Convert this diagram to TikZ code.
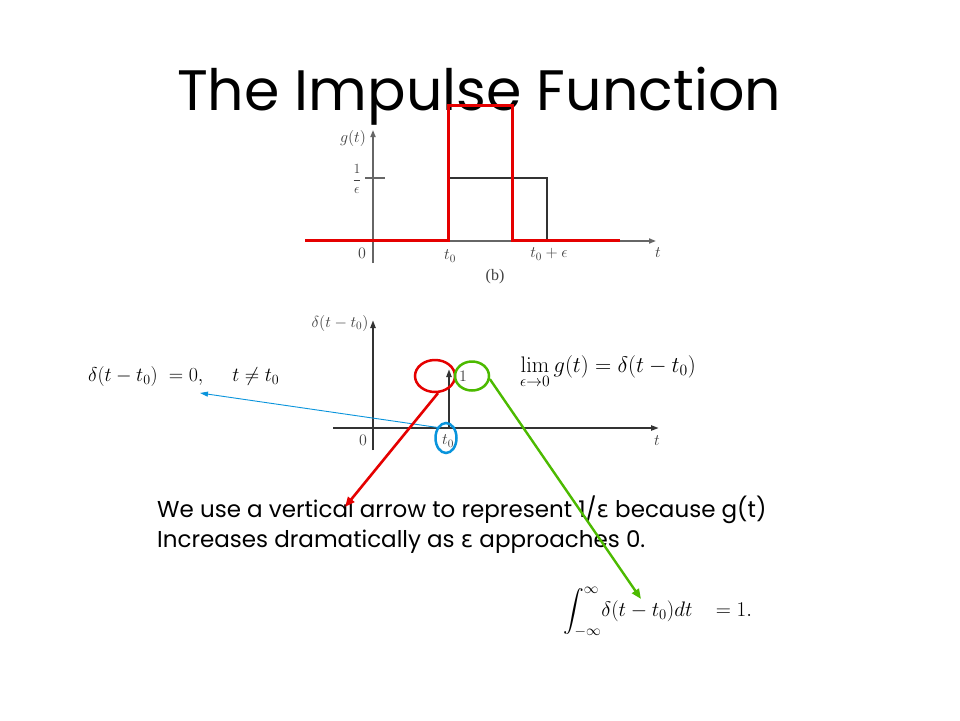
\RequirePackage{fix-cm}
\documentclass[tikz,border=0pt]{standalone}
\usepackage{amsmath}
\usepackage[no-math]{fontspec}
\setmainfont{Poppins}
\newfontfamily\grk{DejaVu Sans}
\usetikzlibrary{arrows.meta,shapes.geometric}
\tikzset{
  gaxis/.style={draw=black!60, line width=1.6pt, -{Triangle[length=7pt,width=5pt]}},
  baxis/.style={draw=black!80, line width=2pt, -{Triangle[length=8pt,width=5pt]}},
  lbl/.style={font=\fontsize{16}{18}\selectfont, text=black!75, inner sep=1pt},
  eqn/.style={inner sep=1pt},
  body/.style={font=\fontsize{23}{30}\selectfont, anchor=base west, inner sep=0pt},
  redl/.style={draw=red!90!black, line width=3pt},
  ring/.style={ellipse, line width=2.5pt, inner sep=0pt},
}
\begin{document}
\begin{tikzpicture}[x=1pt,y=-1pt]
\path[fill=white] (0,0) rectangle (960,720);
\useasboundingbox (0,0) rectangle (960,720);

% title
\node[font=\fontsize{57}{62}\selectfont, anchor=base] (title) at (479,110) {The Impulse Function};

% ---------- top plot ----------
\coordinate (ga0) at (373,263);
\coordinate (ga1) at (373,130);
\coordinate (gh0) at (333,241);
\coordinate (gh1) at (656,241);
\draw[gaxis] (ga0) -- (ga1);
\draw[gaxis] (gh0) -- (gh1);
\draw[black!60, line width=1.4pt] (365,178) coordinate (tk0) -- (385,178) coordinate (tk1);
\draw[black!80, line width=2pt] (449,241) coordinate (r0) -- (449,178) coordinate (r1) -- (547,178) coordinate (r2) -- (547,241) coordinate (r3);
\node[lbl] (gt) at (353,138) {$g(t)$};
\node[lbl, font=\fontsize{14}{16}\selectfont] (oneeps) at (357,179) {$\dfrac{1}{\epsilon}$};
\node[lbl] (z0) at (362,253) {$0$};
\node[lbl] (t0a) at (450,256) {$t_0$};
\node[lbl] (t0e) at (549,254) {$t_0+\epsilon$};
\node[lbl] (ta) at (658,253) {$t$};
\node[lbl] (b) at (495,277) {\fontspec{Liberation Serif}(b)};
% red narrow pulse
\draw[redl] (305,240) coordinate (p0) -- (448,240) coordinate (p1) -- (448,105) coordinate (p2) -- (512,105) coordinate (p3) -- (512,240) coordinate (p4) -- (620,240) coordinate (p5);

% ---------- bottom plot ----------
\coordinate (da0) at (373,450);
\coordinate (da1) at (373,320);
\coordinate (dh0) at (333,428);
\coordinate (dh1) at (659,428);
\draw[baxis] (da0) -- (da1);
\draw[baxis] (dh0) -- (dh1);
\coordinate (imp0) at (449,428);
\coordinate (imp1) at (449,369);
\draw[baxis] (imp0) -- (imp1);
\node[lbl] (dl) at (340,323) {$\delta(t-t_0)$};
\node[lbl] (z1) at (363,440) {$0$};
\node[lbl] (t0b) at (448,441) {$t_0$};
\node[lbl] (tb) at (657,441) {$t$};
\node[lbl] (one) at (463,376) {$1$};

\node[eqn, font=\fontsize{22.5}{26}\selectfont, anchor=west] (lim) at (519,372) {$\lim\limits_{\epsilon\to0} g(t) = \delta(t-t_0)$};
\node[eqn, font=\fontsize{20}{24}\selectfont, anchor=west] (zero) at (87,376) {$\delta(t-t_0)\;=0,\quad\; t\neq t_0$};
\node[eqn, font=\fontsize{21}{24}\selectfont, anchor=west] (intg) at (562,612) {$\displaystyle\int_{-\infty}^{\infty}\!\delta(t-t_0)dt\;\;\;=1.$};

% rings
\node[ring, draw=red!90!black, minimum width=40pt, minimum height=32pt] (redc) at (435,376) {};
\node[ring, draw=green!55!black!60!lime, minimum width=34pt, minimum height=29pt] (greenc) at (472,376) {};
\node[ring, draw=cyan!80!blue, minimum width=21pt, minimum height=30pt] (bluec) at (446,438) {};

% text block
\node[body] (txt1) at (157,517) {We use a vertical arrow to represent 1/{\grk ε} because g(t)};
\node[body] (txt2) at (157,547) {Increases dramatically as {\grk ε} approaches 0.};

% connectors
\coordinate (bluetip) at (200,393);
\coordinate (redtip) at (345,507);
\coordinate (greentip) at (641,599);
\draw[cyan!80!blue, line width=0.9pt, -{Triangle[length=8pt,width=5pt]}] (bluec.130) -- (bluetip);
\draw[red!90!black, line width=2.6pt, -{Triangle[length=10pt,width=8pt]}] (redc.-80) -- (redtip);
\draw[green!55!black!60!lime, line width=2.4pt, -{Triangle[length=10pt,width=8pt]}] (greenc.-10) -- (greentip);
\end{tikzpicture}
\end{document}
